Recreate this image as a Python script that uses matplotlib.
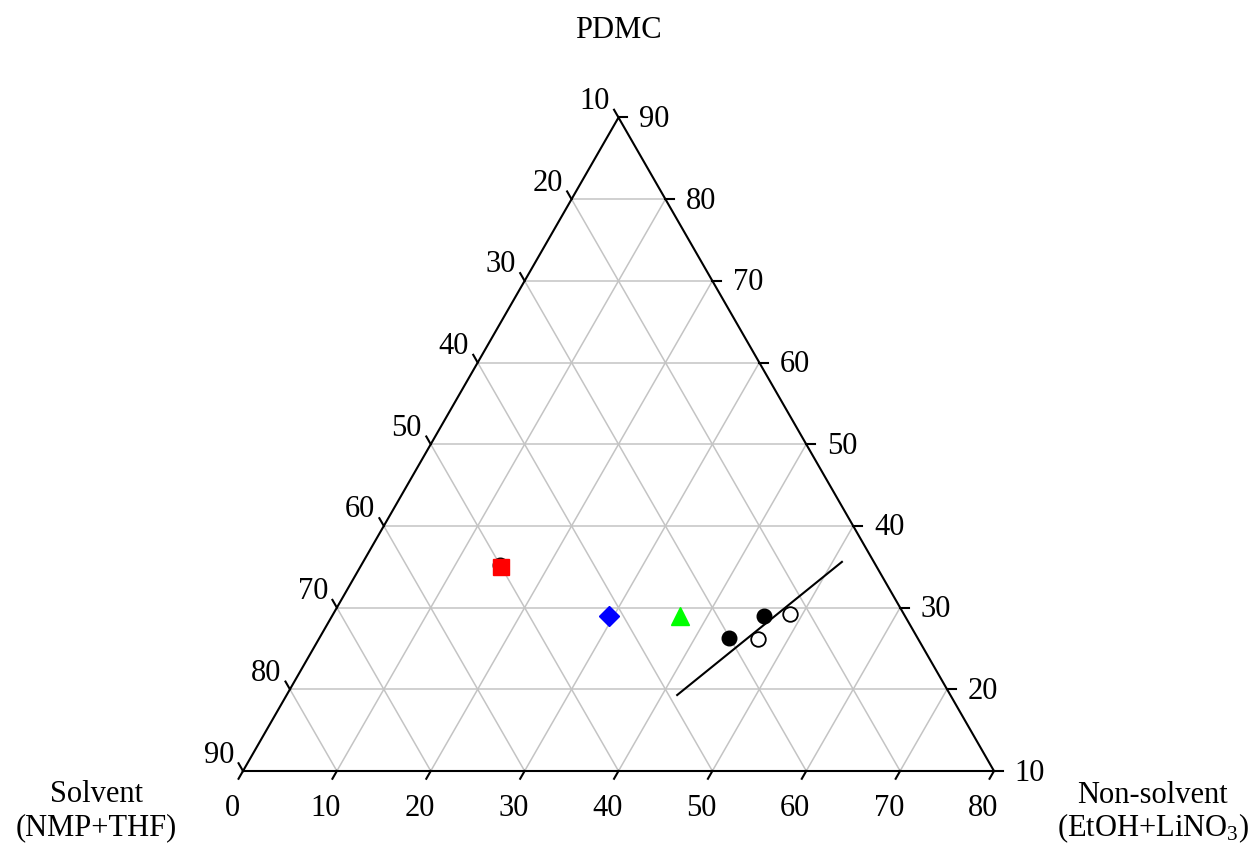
import numpy as np
import matplotlib.pyplot as plt

plt.rcParams['font.family'] = ['Liberation Serif', 'DejaVu Serif']
plt.rcParams['mathtext.fontset'] = 'custom'
plt.rcParams['mathtext.rm'] = 'Liberation Serif'
plt.rcParams['mathtext.it'] = 'Liberation Serif:italic'

# ternary axes (zoomed): non-solvent 0-80, PDMC 10-90, solvent 10-90
bottom_ticks = [0, 10, 20, 30, 40, 50, 60, 70, 80]      # non-solvent
left_ticks = [90, 80, 70, 60, 50, 40, 30, 20, 10]       # solvent
right_ticks = [10, 20, 30, 40, 50, 60, 70, 80, 90]      # PDMC

# points given as (non-solvent %, PDMC %), solvent is the rest
filled_ns = [14.8, 46.0, 43.6]
filled_pdmc = [35.2, 29.0, 26.3]
open_ns = [48.7, 46.8]
open_pdmc = [29.2, 26.2]
square_ns = [15.0]
square_pdmc = [35.0]
diamond_ns = [29.5]
diamond_pdmc = [29.0]
triangle_ns = [37.0]
triangle_pdmc = [29.0]
line_ns = [41.6, 51.0]
line_pdmc = [19.3, 35.6]


def to_xy(ns, pdmc):
    ns = np.asarray(ns, dtype=float)
    pdmc = np.asarray(pdmc, dtype=float)
    return ns + (pdmc - 10) / 2, (pdmc - 10) * np.sqrt(3) / 2


W, H = 1259, 846
fig = plt.figure(figsize=(W / 100, H / 100), dpi=100)
ax = fig.add_axes([0, 0, 1, 1])
ax.axis('off')

# pixel placement of the triangle
x0, y0 = 243, 771
sx = 751 / 80
sy = 653.5 / (80 * np.sqrt(3) / 2)
ax.set_xlim(-x0 / sx, (W - x0) / sx)
ax.set_ylim(-(H - y0) / sy, y0 / sy)

grid_kw = dict(color='#c4c4c4', lw=1.1, zorder=1)
for p in range(20, 90, 10):
    x, y = to_xy([0, 90 - p], [p, p])
    ax.plot(x, y, **grid_kw)
for n in range(10, 80, 10):
    x, y = to_xy([n, n], [10, 90 - n])
    ax.plot(x, y, **grid_kw)
for s in range(20, 90, 10):
    x, y = to_xy([90 - s, 0], [10, 100 - s])
    ax.plot(x, y, **grid_kw)

# triangle frame
x, y = to_xy([0, 80, 0, 0], [10, 10, 90, 10])
ax.plot(x, y, color='black', lw=1.5, zorder=2, solid_joinstyle='miter')

L = 0.95
c, s3 = 0.5, np.sqrt(3) / 2
fs = 22
for n in bottom_ticks:
    x, y = to_xy(n, 10)
    ax.plot([x, x - L * c], [y, y - L * s3], color='black', lw=1.5)
    ax.annotate(str(n), (x, y), xytext=(-11, -37), textcoords='offset pixels',
                ha='center', va='center', fontsize=fs)
for sv in left_ticks:
    x, y = to_xy(0, 100 - sv)
    ax.plot([x, x - L * c], [y, y + L * s3], color='black', lw=1.5)
    ax.annotate(str(sv), (x, y), xytext=(-24, 16), textcoords='offset pixels',
                ha='center', va='center', fontsize=fs)
for p in right_ticks:
    x, y = to_xy(90 - p, p)
    ax.plot([x, x + L], [y, y], color='black', lw=1.5)
    ax.annotate(str(p), (x, y), xytext=(36, -2), textcoords='offset pixels',
                ha='center', va='center', fontsize=fs)

# data
x, y = to_xy(line_ns, line_pdmc)
ax.plot(x, y, color='black', lw=1.5, zorder=3)
x, y = to_xy(filled_ns, filled_pdmc)
ax.plot(x, y, 'o', ms=10.5, color='black', zorder=4)
x, y = to_xy(open_ns, open_pdmc)
ax.plot(x, y, 'o', ms=10.5, mfc='white', mec='black', mew=1.3, zorder=4)
x, y = to_xy(square_ns, square_pdmc)
ax.plot(x, y, 's', ms=11.5, color='#ff0000', zorder=5)
x, y = to_xy(diamond_ns, diamond_pdmc)
ax.plot(x, y, 'D', ms=10, color='#0000ff', zorder=5)
x, y = to_xy(triangle_ns, triangle_pdmc)
ax.plot(x, y, '^', ms=12.5, color='#00ff00', zorder=5)

# axis titles
fig.text(618 / W, 1 - 30 / H, 'PDMC', ha='center', va='center', fontsize=fs)
fig.text(96 / W, 1 - 794 / H, 'Solvent', ha='center', va='center', fontsize=fs)
fig.text(96 / W, 1 - 828 / H, '(NMP+THF)', ha='center', va='center', fontsize=fs)
fig.text(1152 / W, 1 - 795 / H, 'Non-solvent', ha='center', va='center', fontsize=fs)
fig.text(1153 / W, 1 - 828 / H, '(EtOH+LiNO$_3$)', ha='center', va='center', fontsize=fs)

fig.savefig('out.png', dpi=100)
